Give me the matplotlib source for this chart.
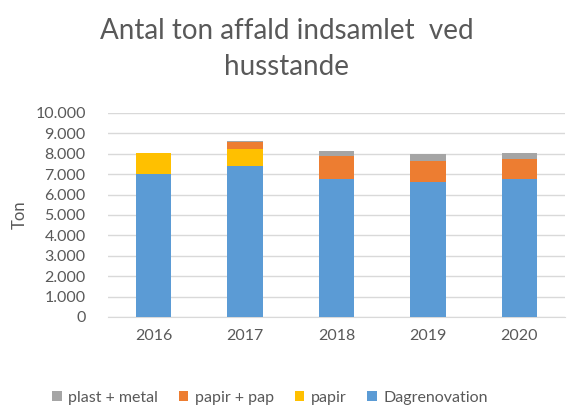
import matplotlib
matplotlib.use("Agg")
import matplotlib.pyplot as plt
import numpy as np

years = ["2016", "2017", "2018", "2019", "2020"]
dagrenovation = [7000, 7400, 6760, 6600, 6760]
papir = [1050, 810, 0, 0, 0]
papir_pap = [0, 345, 1120, 1050, 970]
plast_metal = [0, 65, 245, 330, 315]
yticks = [0, 1000, 2000, 3000, 4000, 5000, 6000, 7000, 8000, 9000, 10000]
ytick_labels = ["0", "1.000", "2.000", "3.000", "4.000", "5.000", "6.000",
                "7.000", "8.000", "9.000", "10.000"]

plt.rcParams['font.family'] = ['Lato', 'DejaVu Sans']
txt = '#595959'

fig = plt.figure(figsize=(5.68, 4.09), dpi=100)
ax = fig.add_axes([0.19, 0.225, 0.805, 0.499])

x = np.arange(len(years))
w = 0.39
b1 = np.array(dagrenovation, float)
b2 = b1 + np.array(papir)
b3 = b2 + np.array(papir_pap)
h1 = ax.bar(x, dagrenovation, w, color='#5B9BD5', label='Dagrenovation', zorder=3)
h2 = ax.bar(x, papir, w, bottom=b1, color='#FFC000', label='papir', zorder=3)
h3 = ax.bar(x, papir_pap, w, bottom=b2, color='#ED7D31', label='papir + pap', zorder=3)
h4 = ax.bar(x, plast_metal, w, bottom=b3, color='#A5A5A5', label='plast + metal', zorder=3)

ax.set_xlim(-0.5, len(years) - 0.5)
ax.set_ylim(0, 10000)
ax.set_yticks(yticks)
ax.set_yticklabels(ytick_labels)
ax.set_xticks(x)
ax.set_xticklabels(years)
ax.yaxis.grid(True, color='#d9d9d9', linewidth=1, zorder=0)
for s in ['top', 'right', 'left']:
    ax.spines[s].set_visible(False)
ax.spines['bottom'].set_color('#d9d9d9')
ax.tick_params(axis='both', length=0, colors=txt, labelsize=11.5)
ax.tick_params(axis='y', pad=16)
ax.tick_params(axis='x', pad=9)

fig.text(20 / 568, 1 - 215 / 409, 'Ton', rotation=90, ha='center', va='center',
         color=txt, fontsize=12)

fig.text(0.505, 0.88, 'Antal ton affald indsamlet  ved\nhusstande', ha='center', va='center',
         fontsize=20, color=txt, linespacing=1.5)

fig.legend(handles=[h4, h3, h2, h1], labels=['plast + metal', 'papir + pap', 'papir', 'Dagrenovation'],
           loc='center', bbox_to_anchor=(0.475, 0.028), ncol=4, frameon=False,
           fontsize=11.5, labelcolor=txt, handlelength=0.6, handleheight=0.6,
           handletextpad=0.4, columnspacing=1.3)

fig.savefig('out.png', dpi=100)
